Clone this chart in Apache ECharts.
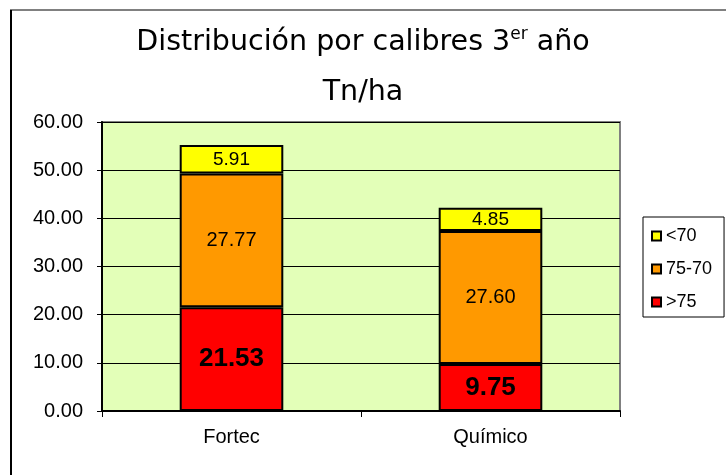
<!DOCTYPE html>
<html>
<head>
<meta charset="utf-8">
<title>Distribución por calibres</title>
<script src="https://cdn.jsdelivr.net/npm/echarts@6/dist/echarts.min.js"></script>
<style>
  html, body { margin: 0; padding: 0; background: #fff; }
  #chart { width: 726px; height: 475px; }
</style>
</head>
<body>
<div id="chart"></div>
<script>
var categories = ['Fortec', 'Químico'];
var seriesNames = ['>75', '75-70', '<70'];
var mayor75 = [21.53, 9.75];
var entre75y70 = [27.77, 27.60];
var menor70 = [5.91, 4.85];
var yTicks = [0, 10, 20, 30, 40, 50, 60];

var chart = echarts.init(document.getElementById('chart'));

var font = 'Liberation Sans, Arial, sans-serif';

function barSerie(name, data, color, label) {
  return {
    name: name,
    type: 'bar',
    stack: 'total',
    barWidth: '40%',
    data: data,
    itemStyle: { color: color, borderColor: '#000', borderWidth: 2 },
    label: Object.assign({
      show: true,
      position: 'inside',
      color: '#000',
      fontFamily: font,
      formatter: function (p) { return p.value.toFixed(2); }
    }, label)
  };
}

var option = {
  animation: false,
  backgroundColor: '#fff',
  title: {
    left: 'center',
    top: 18,
    padding: 0,
    text: '{a|Distribución por calibres 3}{s|er}{a| año}\n{a|Tn/ha}',
    textStyle: {
      fontWeight: 'normal',
      rich: {
        a: { fontFamily: 'DejaVu Sans', fontSize: 28.5, fontWeight: 'normal', color: '#000', lineHeight: 50 },
        s: { fontFamily: 'DejaVu Sans', fontSize: 17, fontWeight: 'normal', color: '#000', lineHeight: 18, verticalAlign: 'top', padding: [8, 0, 0, 0] }
      }
    }
  },
  legend: {
    orient: 'vertical',
    left: 643,
    top: 217,
    padding: [10, 12, 6, 8],
    itemGap: 15,
    itemWidth: 9,
    itemHeight: 9,
    icon: 'rect',
    data: ['<70', '75-70', '>75'],
    backgroundColor: '#fff',
    borderColor: '#000',
    borderWidth: 1,
    itemStyle: { borderColor: '#000', borderWidth: 2 },
    textStyle: { fontFamily: font, fontSize: 18, lineHeight: 18, color: '#000' }
  },
  grid: {
    left: 102,
    right: 106,
    top: 122,
    bottom: 64,
    show: true,
    backgroundColor: '#E3FFB8',
    borderColor: '#808080',
    borderWidth: 2
  },
  xAxis: {
    type: 'category',
    data: categories,
    axisLine: { lineStyle: { color: '#000', width: 2 } },
    axisTick: { show: true, length: 6, lineStyle: { color: '#000' } },
    axisLabel: { fontFamily: font, fontSize: 20, color: '#000', margin: 16 }
  },
  yAxis: {
    type: 'value',
    min: yTicks[0],
    max: yTicks[yTicks.length - 1],
    interval: 10,
    axisLine: { show: true, lineStyle: { color: '#000', width: 2 } },
    axisTick: { show: true, length: 5, lineStyle: { color: '#000' } },
    axisLabel: {
      fontFamily: font, fontSize: 20, color: '#000', margin: 19,
      formatter: function (v) { return v.toFixed(2); }
    },
    splitLine: { show: true, lineStyle: { color: '#000', width: 1 } }
  },
  graphic: [
    { type: 'line', shape: { x1: 10, y1: 10, x2: 726, y2: 10 }, style: { stroke: '#808080', lineWidth: 2 } },
    { type: 'line', shape: { x1: 11, y1: 10, x2: 11, y2: 475 }, style: { stroke: '#000', lineWidth: 2 } }
  ],
  series: [
    barSerie(seriesNames[0], mayor75, '#FF0000', { fontSize: 26, fontWeight: 'bold' }),
    barSerie(seriesNames[1], entre75y70, '#FF9900', { fontSize: 20 }),
    barSerie(seriesNames[2], menor70, '#FFFF00', { fontSize: 19 })
  ]
};

chart.setOption(option);
</script>
</body>
</html>
